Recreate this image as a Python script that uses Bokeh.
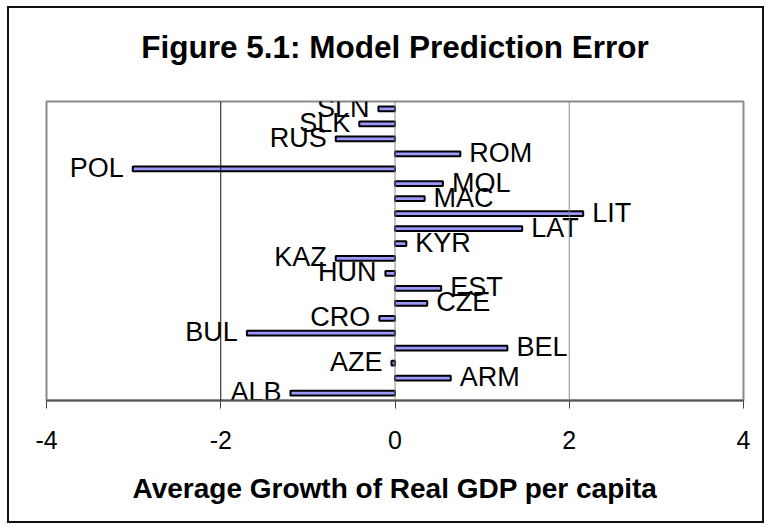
from bokeh.plotting import figure
from bokeh.models import FactorRange, Range1d, FixedTicker, Span, ColumnDataSource, LinearAxis
from bokeh.core.properties import value
from bokeh.embed import file_html
from bokeh.resources import INLINE

# Data (bottom to top)
countries = ["ALB", "ARM", "AZE", "BEL", "BUL", "CRO", "CZE", "EST", "HUN", "KAZ",
             "KYR", "LAT", "LIT", "MAC", "MOL", "POL", "ROM", "RUS", "SLK", "SLN"]
errors = [-1.20, 0.64, -0.04, 1.29, -1.70, -0.18, 0.37, 0.53, -0.11, -0.68,
          0.13, 1.46, 2.16, 0.34, 0.55, -3.01, 0.75, -0.68, -0.41, -0.19]
x_ticks = [-4, -2, 0, 2, 4]
x_tick_labels = ["-4", "-2", "0", "2", "4"]
title_text = "Figure 5.1: Model Prediction Error"
x_title = "Average Growth of Real GDP per capita"

FONT = "Liberation Sans"

p = figure(frame_width=697, frame_height=299,
           min_border_left=37, min_border_right=19,
           min_border_top=93, min_border_bottom=121,
           y_range=FactorRange(factors=countries, range_padding=0),
           x_range=Range1d(-4, 4),
           output_backend="svg", toolbar_location=None)

p.background_fill_color = "white"
p.border_fill_color = "white"
p.outline_line_color = "#8a8a8a"
p.outline_line_width = 2

# outer chart border
p.styles = {"margin-left": "7px", "margin-top": "6px", "border": "2px solid #111111"}

# chart title, carried by a bare axis above the plot area
top = LinearAxis(ticker=FixedTicker(ticks=[]), axis_line_color=None,
                 major_tick_line_color=None, minor_tick_line_color=None,
                 major_tick_in=0, major_tick_out=0, minor_tick_in=0, minor_tick_out=0,
                 major_label_standoff=0,
                 axis_label=title_text, axis_label_text_font=FONT,
                 axis_label_text_font_size="31.5px", axis_label_text_font_style="bold",
                 axis_label_text_color="black", axis_label_standoff=37)
p.add_layout(top, "above")

p.yaxis.visible = False
p.ygrid.visible = False
p.xgrid.visible = False

for loc, col in [(-2, "#111111"), (0, "#8a8a8a"), (2, "#8a8a8a")]:
    p.add_layout(Span(location=loc, dimension="height", line_color=col, line_width=1))

xa = p.below[0]
xa.ticker = FixedTicker(ticks=x_ticks)
xa.major_label_overrides = {t: s for t, s in zip(x_ticks, x_tick_labels)}
xa.minor_tick_line_color = None
xa.major_tick_in = 0
xa.major_tick_out = 8
xa.major_tick_line_color = "#444444"
xa.major_tick_line_width = 1
xa.axis_line_color = "#555555"
xa.axis_line_width = 2
xa.major_label_text_font = FONT
xa.major_label_text_font_size = "25px"
xa.major_label_text_color = "black"
xa.major_label_standoff = 22
xa.axis_label = x_title
xa.axis_label_text_font = FONT
xa.axis_label_text_font_size = "28px"
xa.axis_label_text_font_style = "bold"
xa.axis_label_text_color = "black"
xa.axis_label_standoff = 21

src = ColumnDataSource(data=dict(y=countries, v=errors))
p.hbar(y="y", left=0, right="v", height=0.32, source=src,
       fill_color="#9999FF", line_color="black", line_width=2)

neg = ColumnDataSource(data=dict(y=[c for c, v in zip(countries, errors) if v < 0],
                                 v=[v for v in errors if v < 0]))
pos = ColumnDataSource(data=dict(y=[c for c, v in zip(countries, errors) if v >= 0],
                                 v=[v for v in errors if v >= 0]))
p.text(x="v", y="y", text="y", source=neg, x_offset=-9, y_offset=-1, text_align="right",
       text_baseline="middle", text_font=value(FONT), text_font_size="27px",
       text_color="black")
p.text(x="v", y="y", text="y", source=pos, x_offset=9, y_offset=-1, text_align="left",
       text_baseline="middle", text_font=value(FONT), text_font_size="27px",
       text_color="black")

open("out.html", "w").write(file_html(p, INLINE))
